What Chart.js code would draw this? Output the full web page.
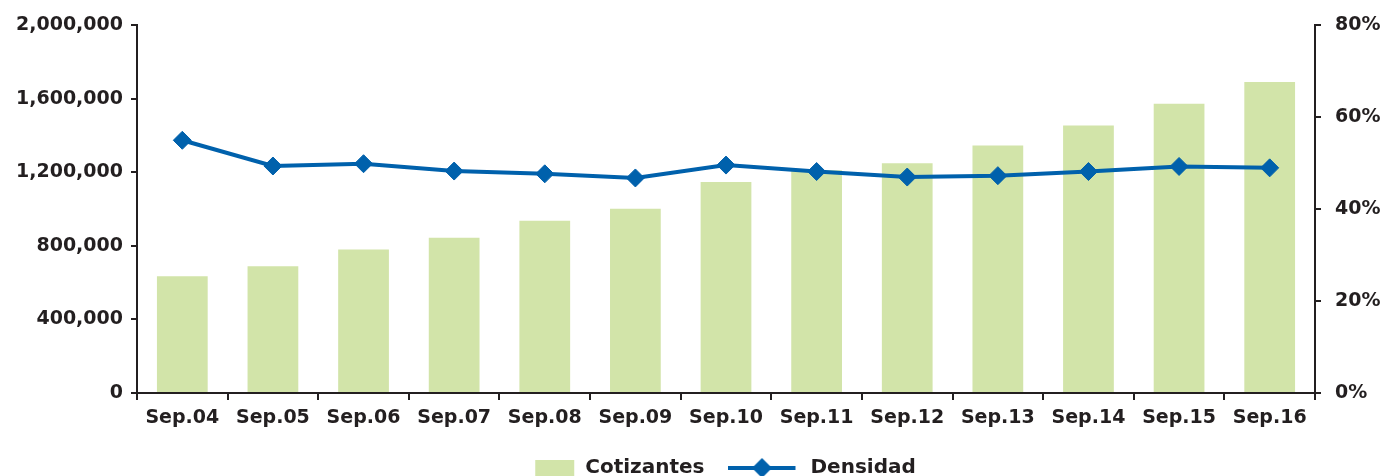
<!DOCTYPE html>
<html lang="es">
<head>
    <meta charset="UTF-8">
    <title>Cotizantes y Densidad</title>
    <script src="https://cdn.jsdelivr.net/npm/chart.js"></script>
    <style>
        html, body {
            margin: 0;
            padding: 0;
            background: #ffffff;
            overflow: hidden;
        }
        #wrap {
            width: 1387px;
            height: 488px;
        }
    </style>
</head>
<body>

<div id="wrap">
    <canvas id="grafico" width="1387" height="488"></canvas>
</div>

<script>
const categorias = ['Sep.04', 'Sep.05', 'Sep.06', 'Sep.07', 'Sep.08', 'Sep.09', 'Sep.10',
                    'Sep.11', 'Sep.12', 'Sep.13', 'Sep.14', 'Sep.15', 'Sep.16'];
const cotizantes = [635000, 689000, 781000, 845000, 937000, 1002000, 1148000,
                    1212000, 1250000, 1347000, 1455000, 1574000, 1692000];
const densidad = [55.0, 49.4, 49.9, 48.3, 47.7, 46.8, 49.6,
                  48.2, 47.0, 47.3, 48.2, 49.3, 49.0];

const VERDE = '#d2e4a9';
const AZUL = '#0061ac';
const OSCURO = '#231f20';
const FUENTE = '"DejaVu Sans", sans-serif';

// iconos de la leyenda
function iconoBarra() {
    const c = document.createElement('canvas');
    c.width = 72; c.height = 18;
    const ctx = c.getContext('2d');
    ctx.fillStyle = VERDE;
    ctx.fillRect(32, 1, 39, 17);
    return c;
}

function iconoLinea() {
    const c = document.createElement('canvas');
    c.width = 72; c.height = 22;
    const ctx = c.getContext('2d');
    ctx.strokeStyle = AZUL;
    ctx.lineWidth = 4;
    ctx.beginPath();
    ctx.moveTo(0, 11);
    ctx.lineTo(67, 11);
    ctx.stroke();
    ctx.fillStyle = AZUL;
    ctx.beginPath();
    ctx.moveTo(33.5, 1);
    ctx.lineTo(43.5, 11);
    ctx.lineTo(33.5, 21);
    ctx.lineTo(23.5, 11);
    ctx.closePath();
    ctx.fill();
    return c;
}

const iconos = [iconoBarra(), iconoLinea()];

// corre la leyenda un poco a la derecha
const centrarLeyenda = {
    id: 'centrarLeyenda',
    afterLayout: function(chart) {
        chart.legend.left += 32;
    }
};

const ctx = document.getElementById('grafico').getContext('2d');

new Chart(ctx, {
    data: {
        labels: categorias,
        datasets: [{
            type: 'bar',
            label: 'Cotizantes',
            data: cotizantes,
            backgroundColor: VERDE,
            yAxisID: 'y',
            order: 2,
            categoryPercentage: 1,
            barPercentage: 0.56
        }, {
            type: 'line',
            label: 'Densidad',
            data: densidad,
            borderColor: AZUL,
            backgroundColor: AZUL,
            borderWidth: 4,
            pointStyle: 'rectRot',
            pointRadius: 9,
            pointHoverRadius: 9,
            pointBackgroundColor: AZUL,
            pointBorderColor: AZUL,
            pointBorderWidth: 1,
            tension: 0,
            yAxisID: 'y2',
            order: 1
        }]
    },
    options: {
        responsive: false,
        animation: false,
        layout: {
            padding: { top: 13, right: 0, left: 0, bottom: 0 }
        },
        scales: {
            x: {
                grid: {
                    drawOnChartArea: false,
                    drawTicks: true,
                    tickLength: 7,
                    color: OSCURO,
                    lineWidth: 2
                },
                border: { color: OSCURO, width: 2 },
                ticks: {
                    color: OSCURO,
                    font: { family: FUENTE, size: 19, weight: 'bold' },
                    padding: 7,
                    maxRotation: 0,
                    autoSkip: false
                },
                afterFit: function(scale) {
                    scale.height = 41;
                }
            },
            y: {
                position: 'left',
                min: 0,
                max: 2000000,
                ticks: {
                    stepSize: 400000,
                    color: OSCURO,
                    font: { family: FUENTE, size: 19, weight: 'bold' },
                    padding: 8,
                    callback: function(v) {
                        return v.toLocaleString('en-US');
                    }
                },
                grid: {
                    drawOnChartArea: false,
                    tickLength: 6,
                    color: OSCURO,
                    lineWidth: 2
                },
                border: { color: OSCURO, width: 2 },
                afterFit: function(scale) {
                    scale.width = 137;
                }
            },
            y2: {
                position: 'right',
                min: 0,
                max: 80,
                ticks: {
                    stepSize: 20,
                    color: OSCURO,
                    font: { family: FUENTE, size: 19, weight: 'bold' },
                    padding: 14,
                    callback: function(v) {
                        return v + '%';
                    }
                },
                grid: {
                    drawOnChartArea: false,
                    tickLength: 6,
                    color: OSCURO,
                    lineWidth: 2
                },
                border: { color: OSCURO, width: 2 },
                afterFit: function(scale) {
                    scale.width = 72;
                }
            }
        },
        plugins: {
            legend: {
                position: 'bottom',
                labels: {
                    usePointStyle: true,
                    pointStyleWidth: 72,
                    color: OSCURO,
                    font: { family: FUENTE, size: 20, weight: 'bold' },
                    padding: 24,
                    generateLabels: function(chart) {
                        const items = Chart.defaults.plugins.legend.labels.generateLabels(chart);
                        items.sort(function(a, b) { return a.datasetIndex - b.datasetIndex; });
                        items.forEach(function(item) {
                            item.pointStyle = iconos[item.datasetIndex];
                        });
                        return items;
                    }
                }
            },
            tooltip: { enabled: false }
        }
    },
    plugins: [centrarLeyenda]
});
</script>

</body>
</html>
